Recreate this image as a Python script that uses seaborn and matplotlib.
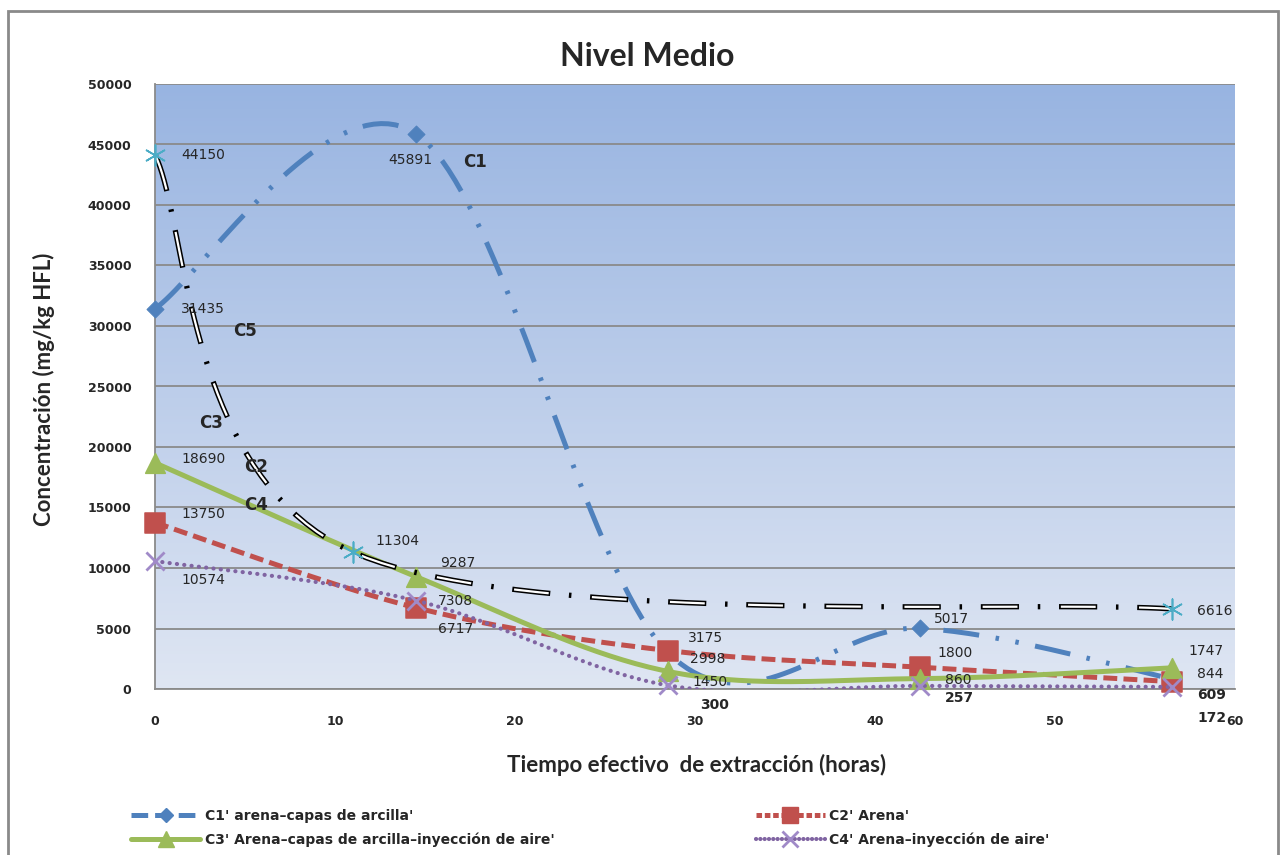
import numpy as np
import matplotlib
matplotlib.use("Agg")
import matplotlib.pyplot as plt
from matplotlib.lines import Line2D
from matplotlib.patches import Rectangle
import seaborn as sns

# datos
horas = [0, 14.5, 28.5, 42.5, 56.5]
c1 = [31435, 45891, 2998, 5017, 844]
c2 = [13750, 6717, 3175, 1800, 609]
c3 = [18690, 9287, 1450, 860, 1747]
c4 = [10574, 7308, 300, 257, 172]
horas_c5 = [0, 11, 56.5]
c5 = [44150, 11304, 6616]

nombres = ["C1' arena–capas de arcilla'", "C2' Arena'",
           "C3' Arena–capas de arcilla–inyección de aire'",
           "C4' Arena–inyección de aire'"]
yticks = list(range(0, 50001, 5000))
xticks = list(range(0, 61, 10))

AZUL = "#4f81bd"
ROJO = "#c0504d"
VERDE = "#9bbb59"
MORADO = "#8064a2"
CIAN = "#4bacc6"


def suavizar(x, y, n=40):
    # linea suavizada estilo excel (bezier con tangentes catmull-rom / 6)
    p = np.column_stack([x, y]).astype(float)
    p = np.vstack([p[:1], p, p[-1:]])
    t = np.linspace(0, 1, n)[:, None]
    partes = []
    for i in range(1, len(p) - 2):
        a = p[i]
        d = p[i + 1]
        b = a + (p[i + 1] - p[i - 1]) / 6
        c = d - (p[i + 2] - p[i]) / 6
        seg = (1 - t) ** 3 * a + 3 * (1 - t) ** 2 * t * b + 3 * (1 - t) * t ** 2 * c + t ** 3 * d
        partes.append(seg if i == 1 else seg[1:])
    s = np.vstack(partes)
    return s[:, 0], s[:, 1]


def main():
    sns.set_style("white")
    plt.rcParams["lines.scale_dashes"] = False
    plt.rcParams["font.family"] = ["DejaVu Sans"]

    fig = plt.figure(figsize=(12.81, 8.55), dpi=100)
    ax = fig.add_axes([155 / 1281, 1 - 689 / 855, 1080 / 1281, 605 / 855])

    # fondo degradado del area de trazado
    grad = np.linspace(0, 1, 256)[:, None]
    cmap = matplotlib.colors.LinearSegmentedColormap.from_list("fondo", ["#98b4e1", "#dfe6f3"])
    ax.imshow(grad, extent=[0, 1, 0, 1], transform=ax.transAxes, aspect="auto",
              cmap=cmap, zorder=0)

    ax.set_xlim(0, 60)
    ax.set_ylim(0, 50000)
    ax.set_yticks(yticks)
    ax.set_xticks(xticks)
    ax.yaxis.grid(True, color="#8a8a8a", lw=1.3, zorder=1)
    ax.set_axisbelow(False)
    for lado in ["top", "right"]:
        ax.spines[lado].set_visible(False)
    for lado in ["left", "bottom"]:
        ax.spines[lado].set_color("#8a8a8a")
        ax.spines[lado].set_linewidth(1.3)
    ax.tick_params(axis="both", direction="out", length=5, width=1.3, color="#8a8a8a",
                   labelsize=9)
    ax.tick_params(axis="x", pad=14)
    ax.tick_params(axis="y", pad=12)
    for lab in ax.get_xticklabels() + ax.get_yticklabels():
        lab.set_fontweight("bold")

    # C1
    xs, ys = suavizar(horas, c1)
    sns.lineplot(x=xs, y=ys, sort=False, estimator=None, ax=ax, color=AZUL, lw=3.6,
                 linestyle=(0, (26, 12, 2.5, 12, 2.5, 12)), zorder=3)
    sns.scatterplot(x=horas, y=c1, marker="D", s=75, color=AZUL, edgecolor=AZUL,
                    ax=ax, zorder=3, clip_on=False)
    # C2
    xs, ys = suavizar(horas, c2)
    sns.lineplot(x=xs, y=ys, sort=False, estimator=None, ax=ax, color=ROJO, lw=3.6,
                 linestyle=(0, (10, 4.5)), zorder=4)
    sns.scatterplot(x=horas, y=c2, marker="s", s=190, color=ROJO, edgecolor=ROJO,
                    ax=ax, zorder=4, clip_on=False)
    # C3
    xs, ys = suavizar(horas, c3)
    sns.lineplot(x=xs, y=ys, sort=False, estimator=None, ax=ax, color=VERDE, lw=3.6,
                 zorder=5)
    sns.scatterplot(x=horas, y=c3, marker="^", s=200, color=VERDE, edgecolor=VERDE,
                    ax=ax, zorder=5, clip_on=False)
    # C4
    xs, ys = suavizar(horas, c4)
    sns.lineplot(x=xs, y=ys, sort=False, estimator=None, ax=ax, color=MORADO, lw=3,
                 linestyle=(0, (0.1, 5.2)), dash_capstyle="round", zorder=6)
    sns.scatterplot(x=horas, y=c4, marker="x", s=170, color="#a08ac8", linewidth=2,
                    ax=ax, zorder=6, clip_on=False)
    # C5 (linea doble negra / blanca)
    xs, ys = suavizar(horas_c5, c5)
    sns.lineplot(x=xs, y=ys, sort=False, estimator=None, ax=ax, color="black", lw=3.8,
                 linestyle=(0, (27.5, 13.5, 1.8, 13.5)), zorder=7)
    sns.lineplot(x=xs, y=ys, sort=False, estimator=None, ax=ax, color="white", lw=1.6,
                 linestyle=(55, (25.1, 31.2)), zorder=7)
    sns.scatterplot(x=horas_c5, y=c5, marker=(6, 2, 0), s=220, color=CIAN,
                    edgecolor=CIAN, linewidth=1.2, ax=ax, zorder=8, clip_on=False)

    # etiquetas de datos (desplazamiento en pixeles, negrita si quedan bajo el eje)
    etiquetas = [
        (horas_c5, c5, [(26, 0), (22, -11), (25, 2)], [False] * 3),
        (horas, c1, [(26, 0), (-28, 26), (22, 6), (14, -9), (25, -5)], [False] * 5),
        (horas, c2, [(26, -9), (22, 21), (20, -13), (17, -14), (25, 13)],
         [False, False, False, False, True]),
        (horas, c3, [(26, -4), (24, -14), (24, 11), (25, 1), (16, -17)], [False] * 5),
        (horas, c4, [(26, 19), (22, 0), (32, 20), (25, 12), (25, 31)],
         [False, False, True, True, True]),
    ]
    for xv, yv, offs, negritas in etiquetas:
        for x, y, (dx, dy), neg in zip(xv, yv, offs, negritas):
            ax.annotate(str(y), (x, y), xytext=(dx, -dy), textcoords="offset pixels",
                        ha="left", va="center", fontsize=10,
                        fontweight="bold" if neg else "normal",
                        annotation_clip=False, zorder=10)

    # nombres de las curvas dentro del grafico
    for txt, x, y in [("C1", 17.8, 43550), ("C5", 5.0, 29590), ("C3", 3.1, 21980),
                      ("C2", 5.6, 18350), ("C4", 5.6, 15210)]:
        ax.text(x, y, txt, fontsize=12, fontweight="bold", ha="center", va="center",
                zorder=10)

    fig.text(647 / 1281, 1 - 57 / 855, "Nivel Medio", fontsize=23, fontweight="bold",
             ha="center", va="center", family="Lato")
    ax.set_ylabel("Concentración (mg/kg HFL)", fontsize=16, fontweight="bold",
                  family="Lato")
    ax.yaxis.set_label_coords(-(155 - 55) / 1080, (689 - 389) / 605)
    fig.text(697 / 1281, 1 - 765 / 855, "Tiempo efectivo  de extracción (horas)",
             fontsize=16, fontweight="bold", ha="center", va="center", family="Lato")

    # leyenda
    manejadores = [
        Line2D([], [], color=AZUL, lw=3.6, linestyle=(0, (12, 5)), marker="D", ms=7),
        Line2D([], [], color=ROJO, lw=3.6, linestyle=(0, (4, 2)), marker="s", ms=11),
        Line2D([], [], color=VERDE, lw=3.6, marker="^", ms=11),
        Line2D([], [], color=MORADO, lw=3, linestyle=(0, (0.1, 3)), dash_capstyle="round",
               marker="x", ms=11, mec="#a08ac8", mew=2),
    ]
    orden = [0, 2, 1, 3]
    fig.legend([manejadores[i] for i in orden], [nombres[i] for i in orden], ncol=2,
               loc="upper left", bbox_to_anchor=(131 / 1281, 1 - 809 / 855),
               frameon=False, borderpad=0, borderaxespad=0, handlelength=5,
               handletextpad=0.3, columnspacing=14.5, labelspacing=0.7,
               prop={"family": "DejaVu Sans", "weight": "bold", "size": 10})

    fig.patches.append(Rectangle((8 / 1281, -0.05), 1270 / 1281, 1.05 - 11 / 855,
                                 transform=fig.transFigure, fill=False,
                                 edgecolor="#8a8a8a", lw=2))

    fig.savefig("out.png", dpi=100)


if __name__ == "__main__":
    main()
